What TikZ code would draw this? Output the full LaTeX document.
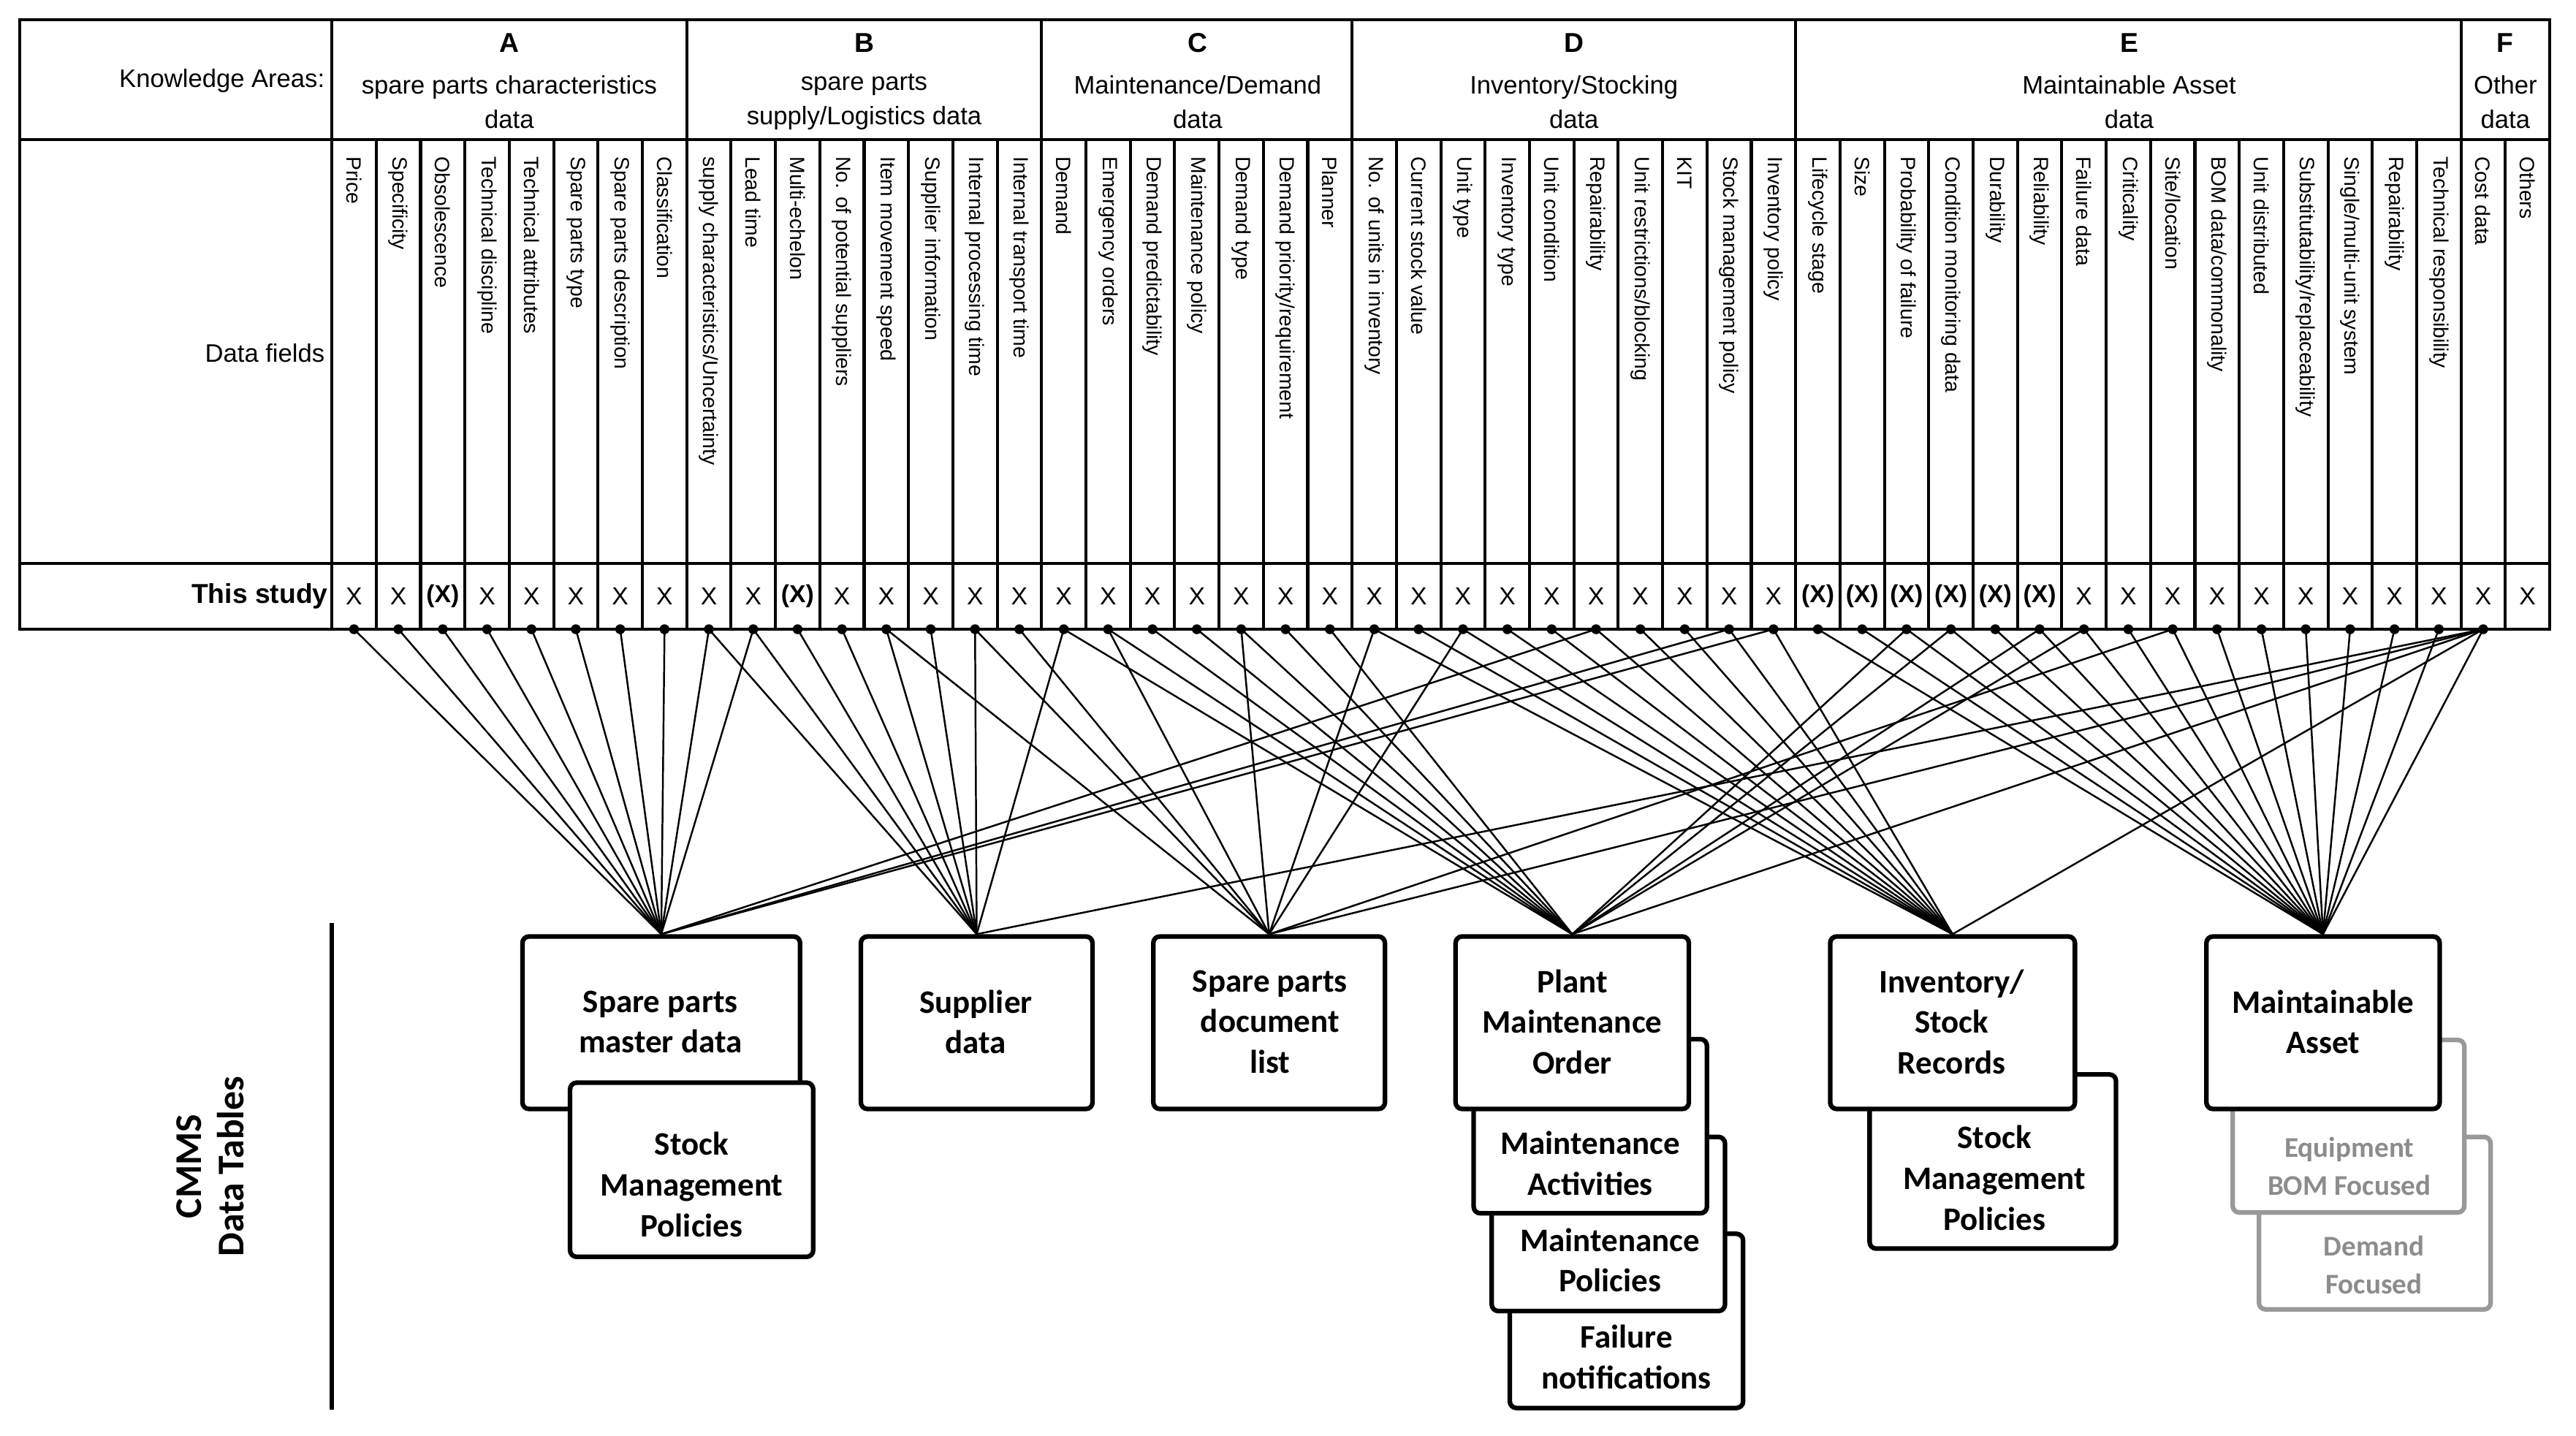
\documentclass[tikz,border=0pt]{standalone}
\usepackage{fontspec}
\setmainfont{Liberation Sans}
\newfontfamily\carl{Carlito}
\begin{document}
\begin{tikzpicture}[x=0.5pt,y=-0.5pt,
  tl/.style={line width=0.9pt},
  fld/.style={rotate=-90,anchor=west,inner sep=0pt,font=\fontsize{6.3}{7}\selectfont},
  hdr/.style={align=center,inner sep=0pt,font=\fontsize{7.7}{10.5}\selectfont},
  xm/.style={inner sep=0pt,font=\fontsize{7.5}{9}\selectfont},
  dot/.style={circle,fill=black,inner sep=0pt,minimum size=3pt},
  conn/.style={line width=0.55pt},
  box/.style={draw,line width=1.4pt,rounded corners=2pt,fill=white,inner sep=0pt},
  gbox/.style={box,draw=black!40},
  btxt/.style={align=center,inner sep=0pt,font=\carl\bfseries\fontsize{10}{12.4}\selectfont},
  gtxt/.style={align=center,inner sep=0pt,text=black!45,font=\carl\bfseries\fontsize{8.7}{11.5}\selectfont}]
\useasboundingbox (0,0) rectangle (1568,874);
% table
\draw[tl] (12,12) rectangle (1552,383);
\draw[tl] (12,85) -- (1552,85) (12,343) -- (1552,343);
\foreach \x in {202,418,634,823,1093,1498} \draw[tl] (\x,12) -- (\x,383);
\foreach \i in {1,...,49} \draw[tl] ({202+27*\i},85) -- ({202+27*\i},383);
\node[hdr,anchor=east] (ka) at (198,49) {Knowledge Areas:};
\node[hdr,anchor=east] (df) at (198,215) {Data fields};
\node[hdr,anchor=east,font=\bfseries\fontsize{8.3}{10}\selectfont] (ts) at (200,363) {This study};
\newcommand\area[5]{\node[hdr,font=\bfseries\fontsize{8.3}{10}\selectfont] (L#1) at (#2,26) {#1};
  \node[hdr] (T#1) at (#2,62) {#3\\#4};}
\area{A}{310}{spare parts characteristics}{data}{}
\area{B}{526}{spare parts}{supply/Logistics data}{}
\area{C}{729}{Maintenance/Demand}{data}{}
\area{D}{958}{Inventory/Stocking}{data}{}
\area{E}{1296}{Maintainable Asset}{data}{}
\area{F}{1525}{Other}{data}{}
\newcommand\fl[2]{\node[fld] (f#1) at ({215.5+27*#1},95) {#2};}
\fl{0}{Price}\fl{1}{Specificity}\fl{2}{Obsolescence}\fl{3}{Technical discipline}
\fl{4}{Technical attributes}\fl{5}{Spare parts type}\fl{6}{Spare parts description}\fl{7}{Classification}
\fl{8}{supply characteristics/Uncertainty}\fl{9}{Lead time}\fl{10}{Multi-echelon}\fl{11}{No. of potential suppliers}
\fl{12}{Item movement speed}\fl{13}{Supplier information}\fl{14}{Internal processing time}\fl{15}{Internal transport time}
\fl{16}{Demand}\fl{17}{Emergency orders}\fl{18}{Demand predictability}\fl{19}{Maintenance policy}
\fl{20}{Demand type}\fl{21}{Demand priority/requirement}\fl{22}{Planner}
\fl{23}{No. of units in inventory}\fl{24}{Current stock value}\fl{25}{Unit type}\fl{26}{Inventory type}
\fl{27}{Unit condition}\fl{28}{Repairability}\fl{29}{Unit restrictions/blocking}\fl{30}{KIT}
\fl{31}{Stock management policy}\fl{32}{Inventory policy}
\fl{33}{Lifecycle stage}\fl{34}{Size}\fl{35}{Probability of failure}\fl{36}{Condition monitoring data}
\fl{37}{Durability}\fl{38}{Reliability}\fl{39}{Failure data}\fl{40}{Criticality}\fl{41}{Site/location}
\fl{42}{BOM data/commonality}\fl{43}{Unit distributed}\fl{44}{Substitutability/replaceability}
\fl{45}{Single/multi-unit system}\fl{46}{Repairability}\fl{47}{Technical responsibility}
\fl{48}{Cost data}\fl{49}{Others}
\foreach \i in {0,1,3,4,5,6,7,8,9,11,12,13,14,15,16,17,18,19,20,21,22,23,24,25,26,27,28,29,30,31,32,39,40,41,42,43,44,45,46,47,48,49}
  \node[xm] (x\i) at ({215.5+27*\i},363) {X};
\foreach \i in {2,10,33,34,35,36,37,38}
  \node[xm,font=\bfseries\fontsize{7.5}{9}\selectfont] (x\i) at ({215.5+27*\i},363) {(X)};
\foreach \i in {0,...,48} \node[dot] (d\i) at ({215.5+27*\i},383) {};
% CMMS label
\node[rotate=90,align=center,inner sep=0pt,font=\carl\bfseries\fontsize{11.5}{13}\selectfont] (cmms) at (128,710) {CMMS\\Data Tables};
\draw[line width=1.4pt] (202,562) coordinate (v1) -- (202,858) coordinate (v2);
% back boxes
\node[box,minimum width=71pt,minimum height=53pt] (FN) at (990,804) {};
\node[box,minimum width=71pt,minimum height=53pt] (MP) at (979,745) {};
\node[box,minimum width=71pt,minimum height=53pt] (MAc) at (968,685.5) {};
\node[gbox,minimum width=70.5pt,minimum height=52.5pt] (DF) at (1445.5,744.5) {};
\node[gbox,minimum width=70.5pt,minimum height=52.5pt] (EB) at (1429.5,685.5) {};
\node[box,minimum width=75pt,minimum height=53pt] (SI) at (1213,707) {};
% front boxes
\node[box,minimum width=84.5pt,minimum height=52.5pt] (M) at (402.5,622.5) {};
\node[box,minimum width=74pt,minimum height=53pt] (SM) at (421,712) {};
\node[box,minimum width=70.5pt,minimum height=52.5pt] (S) at (594.5,622.5) {};
\node[box,minimum width=70.5pt,minimum height=52.5pt] (D) at (772.5,622.5) {};
\node[box,minimum width=71pt,minimum height=52.5pt] (P) at (957,622.5) {};
\node[box,minimum width=74.5pt,minimum height=52.5pt] (I) at (1188.5,622.5) {};
\node[box,minimum width=71pt,minimum height=52.5pt] (A) at (1414,622.5) {};
% texts
\node[btxt] (tM) at (402,622) {Spare parts\\master data};
\node[btxt] (tSM) at (421,721) {Stock\\Management\\Policies};
\node[btxt] (tS) at (594,622) {Supplier\\data};
\node[btxt] (tD) at (773,622) {Spare parts\\document\\list};
\node[btxt] (tP) at (957,622) {Plant\\Maintenance\\Order};
\node[btxt] (tMA) at (968,708) {Maintenance\\Activities};
\node[btxt] (tMP) at (980,767) {Maintenance\\Policies};
\node[btxt] (tFN) at (990,826) {Failure\\notifications};
\node[btxt] (tI) at (1188,622) {Inventory/\\Stock\\Records};
\node[btxt] (tSI) at (1214,717) {Stock\\Management\\Policies};
\node[btxt] (tA) at (1414,622) {Maintainable\\Asset};
\node[gtxt] (tEB) at (1430,710) {Equipment\\BOM Focused};
\node[gtxt] (tDF) at (1445,770) {Demand\\Focused};
% connectors
\foreach \i in {0,...,9,28,31,32} \draw[conn] (d\i.center) -- (M.north);
\foreach \i in {8,...,14,16,48} \draw[conn] (d\i.center) -- (S.north);
\foreach \i in {12,14,15,17,20,23,25,41,48} \draw[conn] (d\i.center) -- (D.north);
\foreach \i in {16,...,22,35,36,38,39,48} \draw[conn] (d\i.center) -- (P.north);
\foreach \i in {23,...,32,48} \draw[conn] (d\i.center) -- (I.north);
\foreach \i in {33,...,48} \draw[conn] (d\i.center) -- (A.north);
\end{tikzpicture}
\end{document}
